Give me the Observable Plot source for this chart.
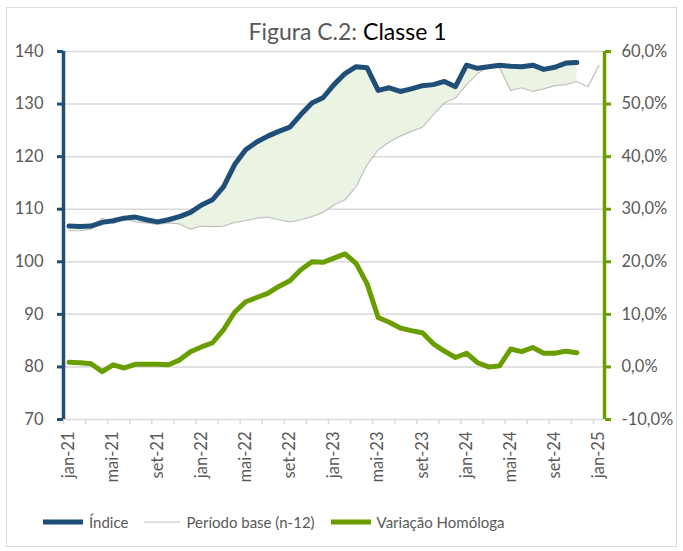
<!DOCTYPE html>
<html>
<head>
<meta charset="utf-8">
<script src="https://cdn.jsdelivr.net/npm/d3@7"></script>
<script src="https://cdn.jsdelivr.net/npm/@observablehq/plot@0.6"></script>
<style>
  html, body { margin: 0; padding: 0; background: #fff; }
  #wrap { position: relative; width: 683px; height: 551px; font-family: Lato, "Noto Sans", sans-serif; }
  #frame { position: absolute; left: 6px; top: 7px; width: 671px; height: 540px; border: 1px solid #d9d9d9; box-sizing: border-box; }
  #title { position: absolute; top: 17px; left: 0; width: 683px; text-align: center; font-size: 23px; color: #595959; padding-left: 12px; box-sizing: border-box; }
  #title b { font-weight: normal; color: #000; }
  #chart { position: absolute; left: 0; top: 42px; }
  #legend { position: absolute; top: 513px; left: 43px; display: flex; align-items: center; font-size: 15px; color: #595959; white-space: nowrap; }
  #legend .item { display: flex; align-items: center; margin-right: 16px; }
  #legend svg { margin-right: 6px; }
</style>
</head>
<body>
<div id="wrap">
  <div id="frame"></div>
  <div id="title">Figura C.2: <b>Classe 1</b></div>
  <div id="chart"></div>
  <div id="legend"></div>
</div>
<script>
// Month index 0 = jan-21 ... 48 = jan-25
const tickLabels = ["jan-21","mai-21","set-21","jan-22","mai-22","set-22","jan-23","mai-23","set-23","jan-24","mai-24","set-24","jan-25"];
const tickMonths = [0,4,8,12,16,20,24,28,32,36,40,44,48];

// Índice (jan-21 .. nov-24)
const indice = [106.8,106.7,106.8,107.5,107.8,108.3,108.5,108.0,107.6,108.0,108.6,109.4,
                110.8,111.8,114.3,118.5,121.3,122.8,123.9,124.8,125.6,128.0,130.2,131.2,
                133.7,135.8,137.1,136.9,132.6,133.1,132.4,132.9,133.5,133.7,134.3,133.3,
                137.4,136.8,137.1,137.4,137.2,137.1,137.4,136.6,137.0,137.8,137.9];

// Período base (n-12) (jan-21 .. jan-25)
const base = [105.9,105.9,106.2,108.3,107.3,108.3,107.6,107.4,107.1,107.4,107.2,106.2,
              106.8,106.7,106.8,107.5,107.8,108.3,108.5,108.0,107.6,108.0,108.6,109.4,
              110.8,111.8,114.3,118.5,121.3,122.8,123.9,124.8,125.6,128.0,130.2,131.2,
              133.7,135.8,137.1,136.9,132.6,133.1,132.4,132.9,133.5,133.7,134.3,133.3,137.4];

// Variação Homóloga, % (jan-21 .. nov-24)
const variacao = [0.9,0.8,0.6,-0.9,0.4,-0.2,0.5,0.5,0.5,0.4,1.3,2.9,
                  3.8,4.6,7.1,10.4,12.4,13.2,14.0,15.3,16.4,18.5,20.0,19.9,
                  20.7,21.5,19.7,15.8,9.4,8.5,7.4,6.9,6.5,4.4,3.0,1.8,
                  2.6,0.8,0.0,0.2,3.4,2.9,3.7,2.6,2.6,3.0,2.7];

const BLUE = "#1F4E79", GREEN = "#6A9E00", GRAY = "#BFBFBF", FILL = "#EBF3E3", TXT = "#595959";

const idxData = indice.map((v, i) => ({m: i, v}));
const baseData = base.map((v, i) => ({m: i, v}));
const areaData = indice.map((v, i) => ({m: i, hi: v, lo: base[i]}));
// right axis: -10% ↔ 70, 60% ↔ 140
const varData = variacao.map((v, i) => ({m: i, v: v + 80}));
const minorTicks = d3.range(-0.5, 49, 2);

const chart = Plot.plot({
  width: 683,
  height: 457,
  marginLeft: 63,
  marginRight: 79,
  marginTop: 9,
  marginBottom: 80,
  style: {fontFamily: "Lato, 'Noto Sans', sans-serif", fontSize: "16px", background: "transparent"},
  x: {domain: [-0.5, 48.5], axis: null},
  y: {domain: [70, 140], axis: null},
  marks: [
    Plot.ruleY([80, 90, 100, 110, 120, 130, 140], {stroke: "#d9d9d9", strokeWidth: 1.5}),
    Plot.areaY(areaData, {x: "m", y1: "lo", y2: "hi", fill: FILL}),
    Plot.lineY(baseData, {x: "m", y: "v", stroke: GRAY, strokeWidth: 1.2}),
    Plot.lineY(idxData, {x: "m", y: "v", stroke: BLUE, strokeWidth: 5, strokeLinejoin: "round"}),
    Plot.lineY(varData, {x: "m", y: "v", stroke: GREEN, strokeWidth: 5, strokeLinejoin: "round"}),
    // bottom axis
    Plot.ruleY([70], {stroke: "#d9d9d9", strokeWidth: 1.5}),
    Plot.axisX({ticks: minorTicks, tickSize: 5, text: null, label: null, stroke: "#d9d9d9", strokeWidth: 1.5}),
    Plot.axisX({ticks: tickMonths, tickSize: 0, tickPadding: 12, tickRotate: -90, label: null,
                tickFormat: (d) => tickLabels[tickMonths.indexOf(d)], fill: TXT, fontSize: 16.5}),
    // left axis
    Plot.ruleX([-0.5], {stroke: BLUE, strokeWidth: 3.5}),
    Plot.axisY({anchor: "left", ticks: [70, 80, 90, 100, 110, 120, 130, 140], tickSize: 6, tickPadding: 14, label: null,
                stroke: BLUE, strokeWidth: 3, fill: TXT, fontSize: 16.5}),
    // right axis
    Plot.ruleX([48.5], {stroke: GREEN, strokeWidth: 3.5}),
    Plot.axisY({anchor: "right", ticks: [70, 80, 90, 100, 110, 120, 130, 140], tickSize: 6, tickPadding: 11, label: null,
                tickFormat: (d) => (d - 80).toFixed(1).replace(".", ",") + "%",
                stroke: GREEN, strokeWidth: 3, fill: TXT, fontSize: 16.5})
  ]
});
document.getElementById("chart").appendChild(chart);

const legendItems = [
  {label: "Índice", color: BLUE, w: 5, len: 40},
  {label: "Período base (n-12)", color: GRAY, w: 1.2, len: 36},
  {label: "Variação Homóloga", color: GREEN, w: 5, len: 40}
];
const leg = document.getElementById("legend");
legendItems.forEach(it => {
  const d = document.createElement("div");
  d.className = "item";
  d.innerHTML = `<svg width="${it.len}" height="10"><line x1="0" x2="${it.len}" y1="5" y2="5" stroke="${it.color}" stroke-width="${it.w}"/></svg><span>${it.label}</span>`;
  leg.appendChild(d);
});
</script>
</body>
</html>
